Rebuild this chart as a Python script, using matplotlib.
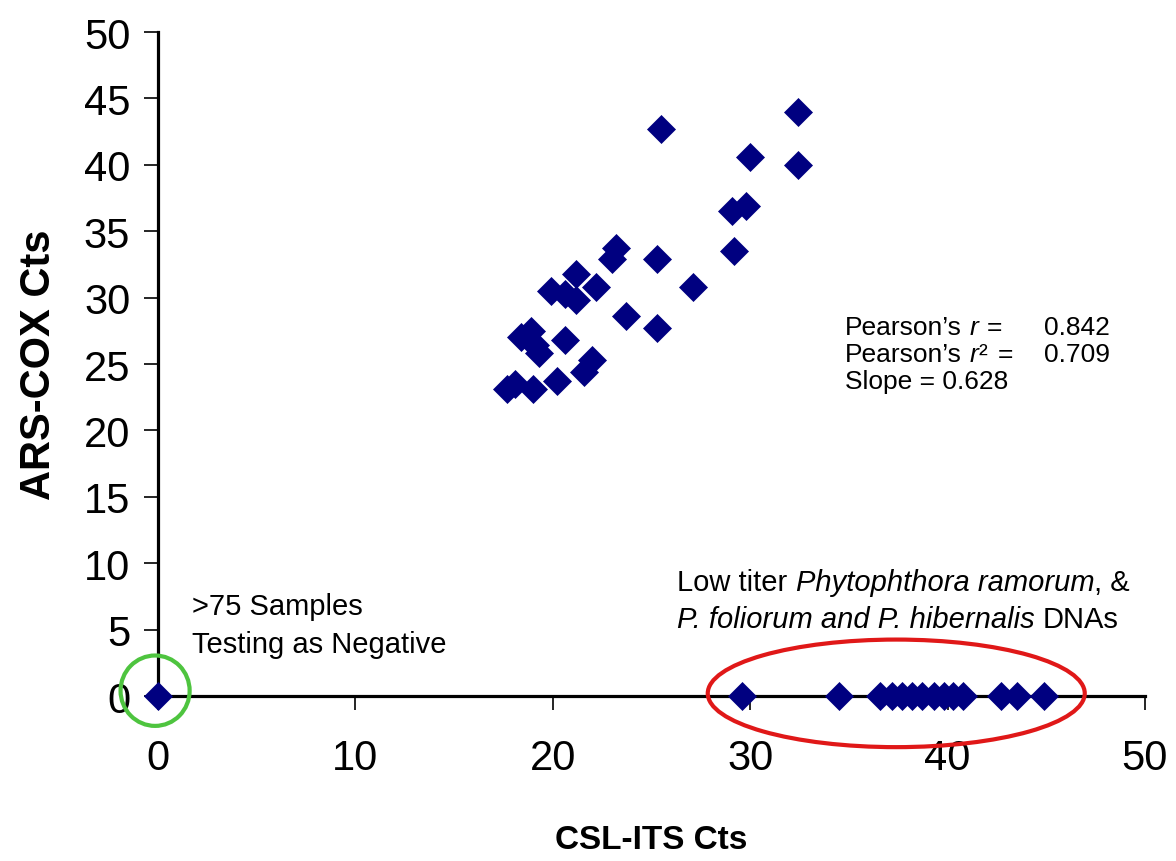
import matplotlib
matplotlib.use("Agg")
import matplotlib.pyplot as plt
from matplotlib.patches import Ellipse

plt.rcParams['font.family'] = ['Liberation Sans', 'DejaVu Sans']

# samples detected by both assays
both_x = [25.5, 32.4, 30.0, 32.4, 29.1, 29.8, 29.2, 23.2, 23.0, 25.3, 21.2, 19.9, 20.6, 21.2,
          22.2, 27.1, 23.7, 25.3, 18.9, 18.4, 19.1, 19.3, 20.6, 22.0, 21.6, 17.7, 18.1, 19.0, 20.2]
both_y = [42.7, 44.0, 40.6, 40.0, 36.5, 36.9, 33.5, 33.7, 32.9, 32.9, 31.8, 30.5, 30.3, 29.8,
          30.8, 30.8, 28.6, 27.7, 27.5, 27.0, 26.4, 25.8, 26.8, 25.3, 24.4, 23.1, 23.5, 23.1, 23.7]

# negative samples
neg_x = [0]
neg_y = [0]

# low titer samples (only CSL-ITS positive)
low_x = [29.6, 34.5, 36.6, 37.2, 37.7, 38.2, 38.7, 39.3, 39.8, 40.3, 40.8, 42.7, 43.5, 44.9]
low_y = [0] * len(low_x)

x_ticks = [0, 10, 20, 30, 40, 50]
y_ticks = [0, 5, 10, 15, 20, 25, 30, 35, 40, 45, 50]

pearson_r = '0.842'
pearson_r2 = '0.709'
slope = '0.628'

navy = '#000080'


def rich_text(ax, x, y, parts, size):
    # parts: (text, style, gap before in em)
    s, st, _ = parts[0]
    t = ax.text(x, y, s, fontsize=size, fontstyle=st, ha='left', va='center')
    for s, st, gap in parts[1:]:
        t = ax.annotate(s, xy=(1, 0.5), xycoords=t, xytext=(gap * size, 0),
                        textcoords='offset points', fontsize=size, fontstyle=st,
                        ha='left', va='center')
    return t


fig = plt.figure(figsize=(11.76, 8.62), dpi=100)
ax = fig.add_axes([0.1344, 0.1914, 0.8392, 0.7703])

for xs, ys in [(both_x, both_y), (neg_x, neg_y), (low_x, low_y)]:
    ax.plot(xs, ys, linestyle='none', marker='D', markersize=14, color=navy,
            markeredgecolor=navy, markeredgewidth=0.5, clip_on=False, zorder=4)

ax.add_patch(Ellipse((-0.15, 0.4), 3.5, 5.3, fill=False, edgecolor='#4ec43f',
                     linewidth=3, clip_on=False, zorder=5))
ax.add_patch(Ellipse((37.4, 0.2), 19.1, 8.1, fill=False, edgecolor='#e01818',
                     linewidth=3, clip_on=False, zorder=5))

ax.set_xlim(0, 50)
ax.set_ylim(0, 50)
ax.set_xticks(x_ticks)
ax.set_yticks(y_ticks)
ax.spines['top'].set_visible(False)
ax.spines['right'].set_visible(False)
ax.spines['left'].set_linewidth(2.3)
ax.spines['bottom'].set_linewidth(2.3)
ax.tick_params(axis='x', length=10, width=1.2, pad=20, labelsize=30)
ax.tick_params(axis='y', length=10, width=1.2, pad=10, labelsize=30)

ax.set_xlabel('CSL-ITS Cts', fontsize=24, fontweight='bold', labelpad=33)
ax.set_ylabel('ARS-COX Cts', fontsize=30, fontweight='bold', labelpad=18)

ax.text(1.7, 6.78, '>75 Samples', fontsize=21, va='center', ha='left')
ax.text(1.7, 3.9, 'Testing as Negative', fontsize=21, va='center', ha='left')

rich_text(ax, 26.3, 8.58, [('Low titer', 'normal', 0), ('Phytophthora ramorum', 'italic', 0.278),
                           (', &', 'normal', 0)], 21)
rich_text(ax, 26.3, 5.8, [('P. foliorum and P. hibernalis', 'italic', 0), ('DNAs', 'normal', 0.278)], 21)

fs = 19
rich_text(ax, 34.8, 27.8, [('Pearson\u2019s', 'normal', 0), ('r', 'italic', 0.278), ('=', 'normal', 0.35)], fs)
ax.text(44.9, 27.8, pearson_r, fontsize=fs, va='center', ha='left')
rich_text(ax, 34.8, 25.75, [('Pearson\u2019s', 'normal', 0), ('r', 'italic', 0.278), ('\u00b2', 'normal', 0.02),
                            ('=', 'normal', 0.4)], fs)
ax.text(44.9, 25.75, pearson_r2, fontsize=fs, va='center', ha='left')
ax.text(34.8, 23.7, 'Slope = ' + slope, fontsize=fs, va='center', ha='left')

fig.savefig('out.png', dpi=100, facecolor='white')
